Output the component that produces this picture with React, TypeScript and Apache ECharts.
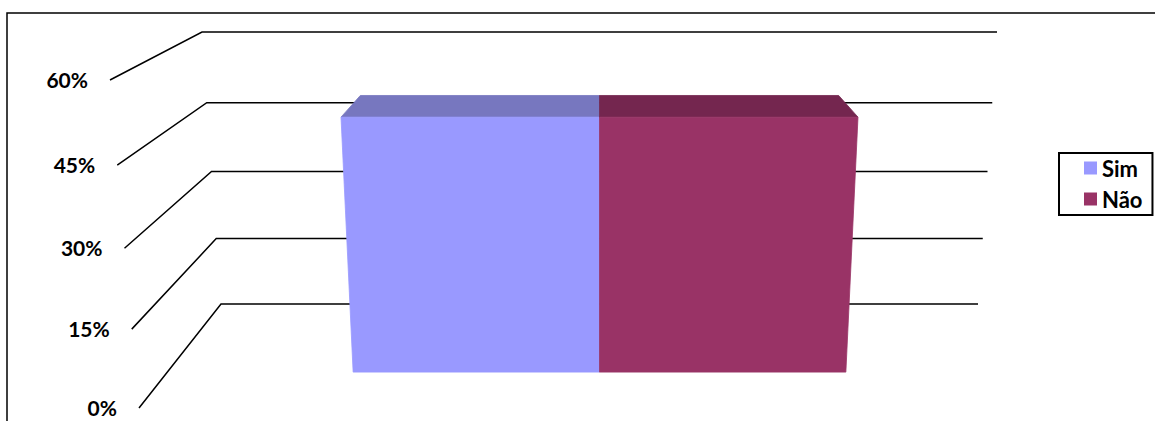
import React, { useEffect, useRef } from "react";
import * as echarts from "echarts";

// ---- data ----
const categories = ["Sim", "Não"];
const values = [50, 50];
const tickValues = [0, 15, 30, 45, 60];
const tickLabels = ["0%", "15%", "30%", "45%", "60%"];

// ---- styles ----
const frontColors = ["#9999FF", "#993366"];
const topColors = ["#7777BF", "#74264F"];
const Y_MIN = 0;
const Y_MAX = 60;
const Y_INTERVAL = 15;

// perspective layout (pixels)
const FRONT_BOTTOM = 408;
const FRONT_RISE = 328;
const FRONT_HALF = 460.5;
const FRONT_SPREAD = 29;
const BACK_SPREAD = 19;
const PERSP = 1.053; // vertical perspective warp
const BAR_SPAN = 0.57;
const D0 = 0.345;
const D1 = 0.72;
const FONT = "Lato";

function makeProj(params: any, api: any) {
  const cs = params.coordSys;
  const y0 = api.coord([0, Y_MIN])[1];
  const yTop = api.coord([0, Y_MAX])[1];
  const cx = cs.x + cs.width / 2;
  return (u: number, v: number, d: number) => {
    const yLin = api.coord([0, v])[1];
    const t = (y0 - yLin) / (y0 - yTop);
    const g = t / (PERSP + (1 - PERSP) * t);
    const yb = y0 - (y0 - yTop) * g;
    const yf = FRONT_BOTTOM - FRONT_RISE * g;
    const hb = cs.width / 2 + BACK_SPREAD * t;
    const hf = FRONT_HALF + FRONT_SPREAD * t;
    const y = yf * (1 - d) + yb * d;
    const h = hf * (1 - d) + hb * d;
    return [cx + u * h, y];
  };
}

export default function App() {
  const ref = useRef<HTMLDivElement>(null);
  useEffect(() => {
    if (!ref.current) return;
    const chart = echarts.init(ref.current, null, { renderer: "svg" });

    const gridSeries: any = {
      type: "custom",
      name: "grid",
      z: 1,
      silent: true,
      data: tickValues.map((v) => [0, v]),
      renderItem: (params: any, api: any) => {
        const v = api.value(1);
        const p = makeProj(params, api);
        const f = p(-1, v, 0);
        const bl = p(-1, v, 1);
        const br = p(1, v, 1);
        return {
          type: "group",
          children: [
            {
              type: "polyline",
              shape: { points: [f, bl, br] },
              style: { stroke: "#000", lineWidth: 1.5, fill: "none" },
            },
            {
              type: "text",
              x: f[0] - 22,
              y: f[1] - 1,
              style: {
                text: tickLabels[params.dataIndex],
                align: "right",
                verticalAlign: "middle",
                fill: "#000",
                fontFamily: FONT,
                fontWeight: "bold",
                fontSize: 21,
              },
            },
          ],
        };
      },
    };

    const barSeries = categories.map((name, i) => ({
      type: "custom",
      name,
      z: 3,
      itemStyle: { color: frontColors[i] },
      data: [[i, values[i]]],
      renderItem: (params: any, api: any) => {
        const p = makeProj(params, api);
        const cs = params.coordSys;
        const cx = cs.x + cs.width / 2;
        const half = cs.width / 2;
        const bandC = api.coord([api.value(0), 0])[0];
        const bandW = api.size([1, 0])[0];
        const u0 = ((bandC - bandW / 2 - cx) / half) * BAR_SPAN;
        const u1 = ((bandC + bandW / 2 - cx) / half) * BAR_SPAN;
        const v = api.value(1);
        const front = [p(u0, 0, D0), p(u1, 0, D0), p(u1, v, D0), p(u0, v, D0)];
        const top = [p(u0, v, D0), p(u1, v, D0), p(u1, v, D1), p(u0, v, D1)];
        return {
          type: "group",
          children: [
            {
              type: "polygon",
              shape: { points: top },
              style: { fill: topColors[i], stroke: topColors[i], lineWidth: 0.8 },
            },
            {
              type: "polygon",
              shape: { points: front },
              style: { fill: frontColors[i], stroke: frontColors[i], lineWidth: 0.8 },
            },
          ],
        };
      },
    }));

    chart.setOption({
      animation: false,
      grid: { left: 221, right: 177, top: 32, bottom: 117 },
      xAxis: { type: "category", data: categories, show: false },
      yAxis: { type: "value", min: Y_MIN, max: Y_MAX, interval: Y_INTERVAL, show: false },
      legend: {
        data: categories,
        orient: "vertical",
        left: 1059,
        top: 153,
        padding: [4, 10, 5, 25],
        itemWidth: 13,
        itemHeight: 13,
        itemGap: 9,
        itemTextGap: 5,
        borderColor: "#000",
        borderWidth: 2,
        icon: "rect",
        textStyle: {
          fontFamily: FONT,
          fontWeight: "bold",
          fontSize: 22,
          color: "#000",
          lineHeight: 20,
        },
      },
      graphic: [
        {
          type: "rect",
          silent: true,
          shape: { x: 7, y: 13, width: 1400, height: 700 },
          style: { fill: "none", stroke: "#000", lineWidth: 1.5 },
        },
      ],
      series: [gridSeries, ...barSeries],
    });
    return () => chart.dispose();
  }, []);
  return (
    <div
      ref={ref}
      style={{ position: "fixed", left: 0, top: 0, width: 1155, height: 421, background: "#fff" }}
    />
  );
}
